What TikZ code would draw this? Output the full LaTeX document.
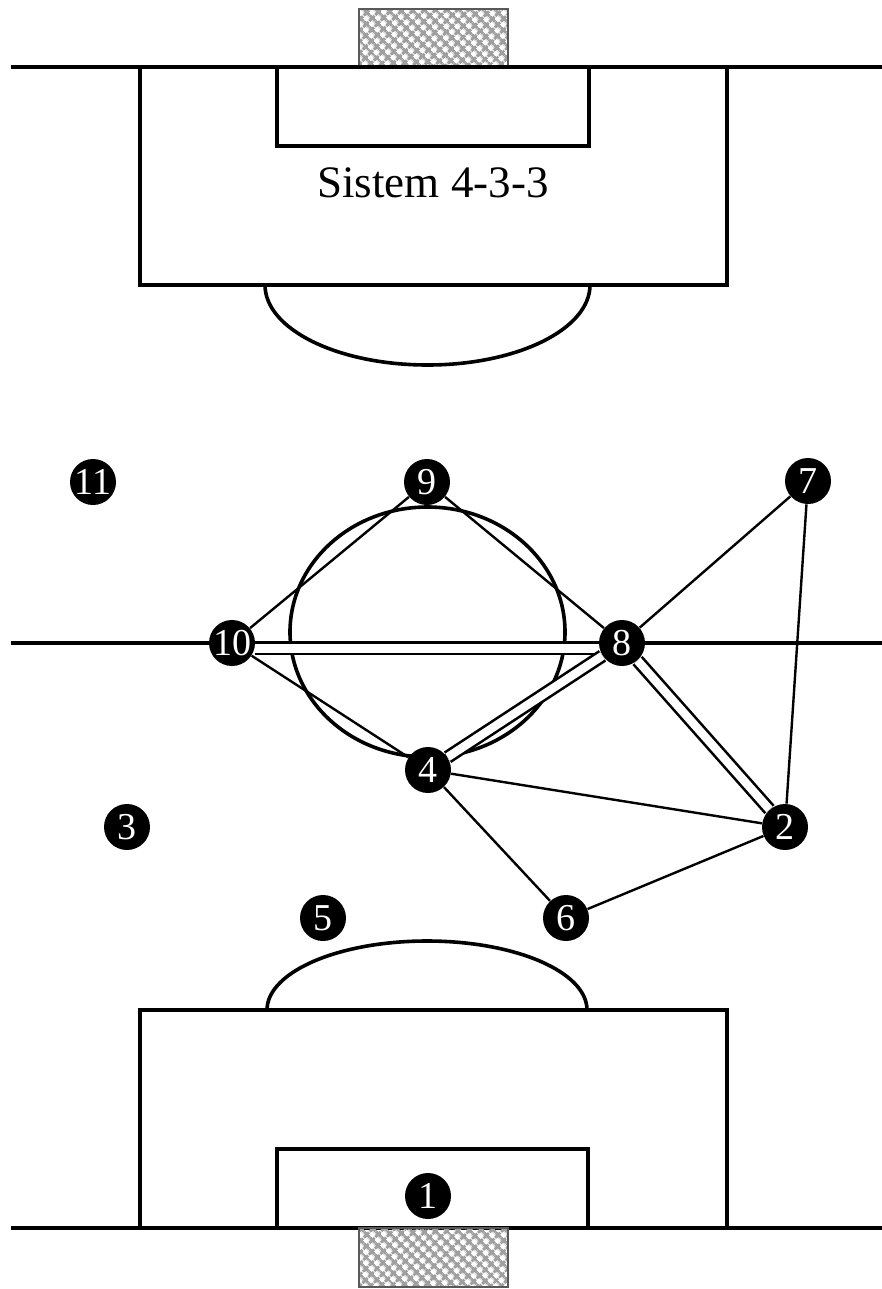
\documentclass[tikz,border=0pt]{standalone}
\usepackage{fontspec}
\setmainfont{Liberation Serif}
\usetikzlibrary{patterns.meta}
\begin{document}
\begin{tikzpicture}[x=0.5pt,y=-0.5pt]
\tikzstyle{field}=[line width=1.8pt]
\tikzstyle{goal}=[draw=gray!70!black,line width=0.7pt,pattern={Hatch[angle=45,distance=4pt,line width=1.6pt]},pattern color=gray!75]
\tikzstyle{player}=[circle,fill=black,text=white,minimum size=23pt,inner sep=0pt,font=\fontsize{19}{19}\selectfont]
\tikzstyle{pass}=[line width=1.2pt]
\tikzstyle{passtwo}=[line width=1.3pt,double=white,double distance=4.2pt]
\useasboundingbox (0,0) rectangle (882,1289);
% top half
\draw[goal] (359,9) rectangle (508,67);
\draw[field] (11,67) -- (882,67);
\draw[field] (140,67) rectangle (727,285);
\draw[field] (277,67) rectangle (589,146);
\begin{scope}
\clip (0,285) rectangle (882,400);
\draw[field] (427.5,285) ellipse [x radius=81.25pt,y radius=40pt];
\end{scope}
\node[font=\fontsize{22.5}{26}\selectfont] (title) at (433,183) {Sistem 4-3-3};
% middle
\draw[field] (11,643) -- (882,643);
\draw[field] (427.5,632) ellipse [x radius=68.75pt,y radius=62.5pt];
% bottom half
\begin{scope}
\clip (0,900) rectangle (882,1010);
\draw[field] (427,1010) ellipse [x radius=80pt,y radius=34.5pt];
\end{scope}
\draw[field] (140,1010) rectangle (727,1228);
\draw[field] (277,1149) rectangle (588,1228);
\draw[field] (11,1228) -- (882,1228);
\draw[goal] (359,1228) rectangle (508,1287);
% players
\draw (428,1196) node[player] (p1)  {1};
\draw (785,827)  node[player] (p2)  {2};
\draw (127,827)  node[player] (p3)  {3};
\draw (428,770)  node[player] (p4)  {4};
\draw (323,918)  node[player] (p5)  {5};
\draw (566,918)  node[player] (p6)  {6};
\draw (808,481)  node[player] (p7)  {7};
\draw (622,643)  node[player] (p8)  {8};
\draw (427,482)  node[player] (p9)  {9};
\draw (232,643)  node[player] (p10) {10};
\draw (93,482)   node[player] (p11) {11};
% passes
\draw[pass] (p10) -- (p9);
\draw[pass] (p9) -- (p8);
\draw[pass] (p10) -- (p4);
\draw[pass] (p8) -- (p7);
\draw[pass] (p7) -- (p2);
\draw[pass] (p4) -- (p2);
\draw[pass] (p4) -- (p6);
\draw[pass] (p6) -- (p2);
\draw[passtwo] ([yshift=-2.75pt]p10.east) -- ([yshift=-2.75pt]p8.west);
\draw[passtwo] (p8) -- (p4);
\draw[passtwo] (p8) -- (p2);
\end{tikzpicture}
\end{document}
